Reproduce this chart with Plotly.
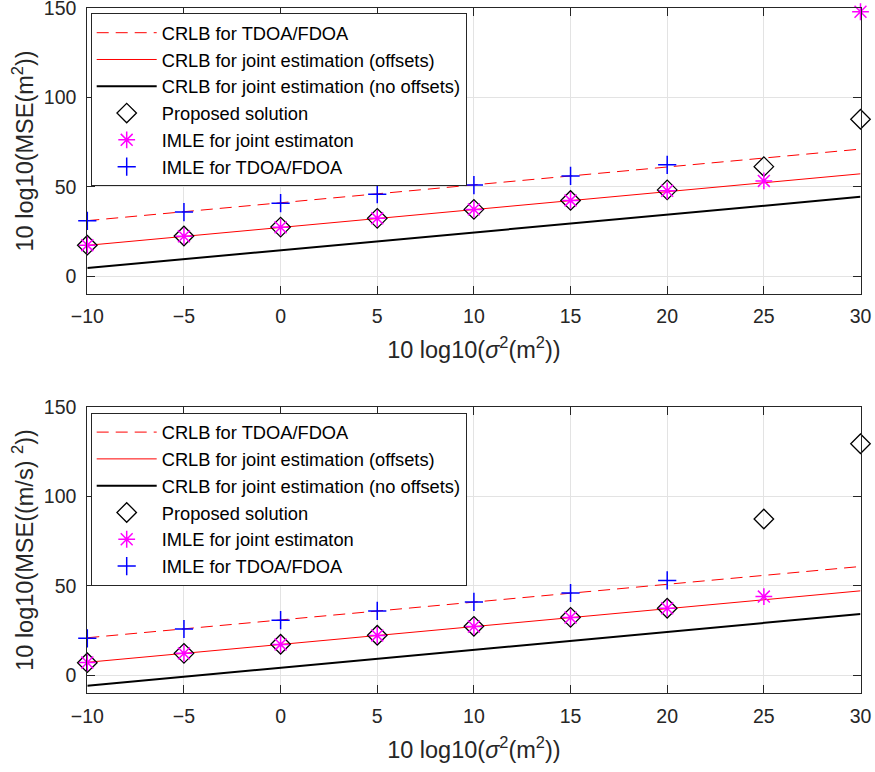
import plotly.graph_objects as go

W, H = 875, 772
x = [-10, -5, 0, 5, 10, 15, 20, 25, 30]
x_line = [-10, 30]

# Top panel (position MSE)
top_crlb_tf = [31, 71]
top_crlb_off = [17.2, 57.2]
top_crlb_nooff = [4.5, 44.3]
top_proposed = [17.3, 22.4, 27.4, 32.3, 37.3, 42.3, 48.2, 61.2, 87.7]
top_imle_joint = [17.3, 22.3, 27.3, 32.3, 37.3, 42.3, 47.7, 53.2, 147.8]
top_imle_tf = [30.9, 35.8, 40.8, 45.8, 50.9, 56.0, 62.2, None, None]

# Bottom panel (velocity MSE)
bot_crlb_tf = [21, 60.8]
bot_crlb_off = [7.3, 47.2]
bot_crlb_nooff = [-5.8, 34.3]
bot_proposed = [7.1, 12.3, 17.4, 22.4, 27.4, 32.4, 37.5, 87.3, 129.3]
bot_imle_joint = [7.2, 12.3, 17.3, 22.3, 27.3, 32.3, 37.5, 44.0, None]
bot_imle_tf = [20.7, 25.9, 30.8, 36.0, 41.0, 46.0, 53.0, None, None]

names = ["CRLB for TDOA/FDOA", "CRLB for joint estimation (offsets)",
         "CRLB for joint estimation (no offsets)", "Proposed solution",
         "IMLE for joint estimaton", "IMLE for TDOA/FDOA"]

FONT = "Liberation Sans, Arial, Helvetica, sans-serif"
AXC = "#262626"

fig = go.Figure()

def add_panel(xa, ya, leg, tf, off, nooff, prop, ij, itf):
    common = dict(xaxis=xa, yaxis=ya, legend=leg, cliponaxis=False)
    fig.add_trace(go.Scatter(x=x_line, y=tf, mode="lines", name=names[0],
                             line=dict(color="#ff0000", width=1, dash="12px,7px"), **common))
    fig.add_trace(go.Scatter(x=x_line, y=off, mode="lines", name=names[1],
                             line=dict(color="#ff0000", width=1), **common))
    fig.add_trace(go.Scatter(x=x_line, y=nooff, mode="lines", name=names[2],
                             line=dict(color="#000000", width=2), **common))
    fig.add_trace(go.Scatter(x=x, y=prop, mode="markers", name=names[3],
                             marker=dict(symbol="diamond-open", size=15, color="#000000",
                                         line=dict(width=1.3, color="#000000")), **common))
    fig.add_trace(go.Scatter(x=x, y=ij, mode="markers", name=names[4],
                             marker=dict(symbol="asterisk-open", size=14, color="#ff00ff",
                                         line=dict(width=1.5, color="#ff00ff")), **common))
    fig.add_trace(go.Scatter(x=x, y=itf, mode="markers", name=names[5],
                             marker=dict(symbol="cross-thin-open", size=13, color="#0000ff",
                                         line=dict(width=1.5, color="#0000ff")), **common))

add_panel("x", "y", "legend", top_crlb_tf, top_crlb_off, top_crlb_nooff,
          top_proposed, top_imle_joint, top_imle_tf)
add_panel("x2", "y2", "legend2", bot_crlb_tf, bot_crlb_off, bot_crlb_nooff,
          bot_proposed, bot_imle_joint, bot_imle_tf)

xl, xr = 87.3, 860.5
top_t, top_b = 7.8, 294.0
bot_t, bot_b = 406.7, 693.3

def ax_common():
    return dict(showline=True, linecolor=AXC, linewidth=1, mirror="ticks",
                ticks="inside", ticklen=8, tickcolor=AXC, tickwidth=1,
                showgrid=True, gridcolor="#e3e3e3", gridwidth=1, zeroline=False,
                automargin=False, ticklabeloverflow="allow",
                tickfont=dict(family=FONT, size=19.5, color=AXC))

xtitle = "10 log10(<i>σ</i><sup>2</sup>(m<sup>2</sup>))"
TF = dict(family=FONT, size=23.5, color=AXC)

fig.update_layout(
    width=W, height=H, margin=dict(l=0, r=0, t=0, b=0),
    paper_bgcolor="white", plot_bgcolor="white",
    font=dict(family=FONT, size=18, color=AXC),
    xaxis=dict(domain=[xl / W, xr / W], range=[-10, 30], tickvals=x, anchor="y",
               title=dict(text=xtitle, font=TF, standoff=15),
               ticklabelstandoff=5, **ax_common()),
    yaxis=dict(domain=[1 - top_b / H, 1 - top_t / H], range=[-10, 150],
               tickvals=[0, 50, 100, 150], anchor="x",
               title=dict(text="10 log10(MSE(m<sup>2</sup>))", font=TF, standoff=3),
               ticklabelstandoff=6, **ax_common()),
    xaxis2=dict(domain=[xl / W, xr / W], range=[-10, 30], tickvals=x, anchor="y2",
                title=dict(text=xtitle, font=TF, standoff=15),
                ticklabelstandoff=5, **ax_common()),
    yaxis2=dict(domain=[1 - bot_b / H, 1 - bot_t / H], range=[-10, 150],
                tickvals=[0, 50, 100, 150], anchor="x2",
                title=dict(text="10 log10(MSE((m/s) <sup>2</sup>))", font=TF, standoff=3),
                ticklabelstandoff=6, **ax_common()),
    legend=dict(x=90.7 / W, y=1 - 13.3 / H, xanchor="left", yanchor="top",
                bgcolor="white", bordercolor=AXC, borderwidth=1,
                font=dict(family=FONT, size=18.3, color="#000000"), itemwidth=60,
                tracegroupgap=0),
    legend2=dict(x=90.7 / W, y=1 - 412.7 / H, xanchor="left", yanchor="top",
                 bgcolor="white", bordercolor=AXC, borderwidth=1,
                 font=dict(family=FONT, size=18.3, color="#000000"), itemwidth=60,
                 tracegroupgap=0),
    showlegend=True,
)

fig.write_html("out.html")
